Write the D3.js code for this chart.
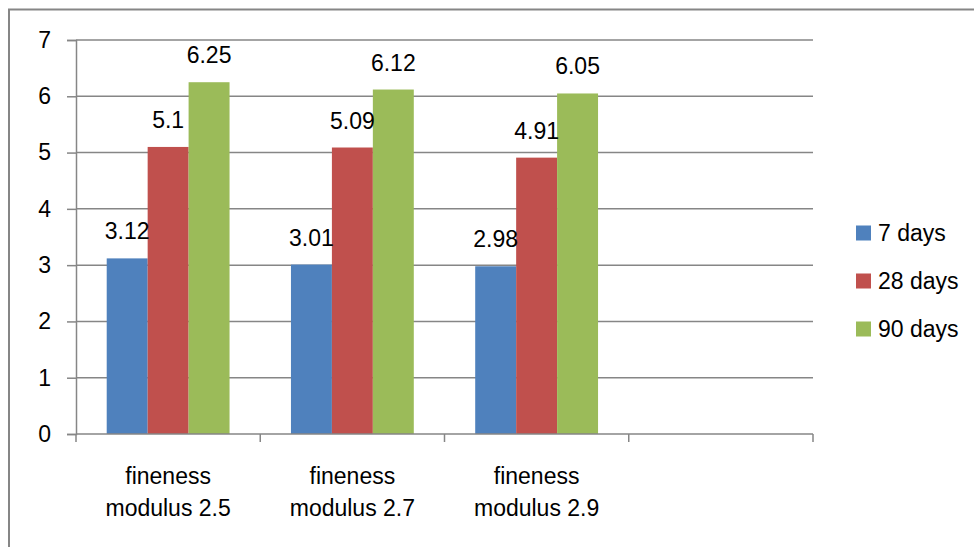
<!DOCTYPE html>
<html>
<head>
<meta charset="utf-8">
<script src="https://cdn.jsdelivr.net/npm/d3@7"></script>
<style>
  html, body { margin: 0; padding: 0; background: #fff; }
  svg { display: block; font-family: "Liberation Sans", Arial, sans-serif; }
</style>
</head>
<body>
<svg id="chart" width="974" height="547"></svg>
<script>
// Compressive strength by fine-aggregate fineness modulus and curing age
const categories = [["fineness", "modulus 2.5"], ["fineness", "modulus 2.7"], ["fineness", "modulus 2.9"], null];
const seriesNames = ["7 days", "28 days", "90 days"];
const seriesColors = ["#4F81BD", "#C0504D", "#9BBB59"];
const values7 = [3.12, 3.01, 2.98];
const values28 = [5.1, 5.09, 4.91];
const values90 = [6.25, 6.12, 6.05];
const yTicks = [0, 1, 2, 3, 4, 5, 6, 7];

const seriesValues = [values7, values28, values90];

const svg = d3.select("#chart");
const axisColor = "#868686";
const fontSize = 23;

const plot = { left: 76, right: 813, top: 40, bottom: 434 };

// outer chart frame (extends past the visible area on the right and bottom)
svg.append("rect")
  .attr("x", 9).attr("y", 9.5)
  .attr("width", 1000).attr("height", 600)
  .attr("fill", "none")
  .attr("stroke", axisColor)
  .attr("stroke-width", 2);

const x = d3.scaleBand()
  .domain(d3.range(categories.length))
  .range([plot.left, plot.right])
  .paddingInner(0).paddingOuter(0);

// gap width 150% of a bar: 3 bars + 1.5 bars of gap per slot
const xs = d3.scaleBand()
  .domain(seriesNames)
  .range([0, x.bandwidth()])
  .paddingInner(0)
  .paddingOuter(0.75);

const y = d3.scaleLinear().domain([0, 7]).range([plot.bottom, plot.top]);

// gridlines
svg.append("g").selectAll("line")
  .data(yTicks.filter(t => t > 0))
  .join("line")
  .attr("x1", plot.left).attr("x2", plot.right)
  .attr("y1", d => y(d)).attr("y2", d => y(d))
  .attr("stroke", axisColor).attr("stroke-width", 1.5);

// bars
const barData = [];
seriesNames.forEach((s, si) => {
  seriesValues[si].forEach((v, ci) => barData.push({ s, si, ci, v }));
});

svg.append("g").selectAll("rect")
  .data(barData)
  .join("rect")
  .attr("x", d => x(d.ci) + xs(d.s))
  .attr("y", d => y(d.v))
  .attr("width", xs.bandwidth())
  .attr("height", d => y(0) - y(d.v))
  .attr("fill", d => seriesColors[d.si]);

// value labels
svg.append("g").selectAll("text")
  .data(barData)
  .join("text")
  .attr("x", d => x(d.ci) + xs(d.s) + xs.bandwidth() / 2)
  .attr("y", d => y(d.v) - 19)
  .attr("text-anchor", "middle")
  .attr("font-size", fontSize)
  .attr("fill", "#000")
  .text(d => String(d.v));

// y axis
const yAxis = d3.axisLeft(y).tickValues(yTicks).tickSize(9).tickPadding(16).tickFormat(d3.format("d"));
const gy = svg.append("g").attr("transform", `translate(${plot.left},0)`).call(yAxis);
gy.select(".domain").attr("stroke", axisColor).attr("stroke-width", 1.5);
gy.selectAll(".tick line").attr("stroke", axisColor).attr("stroke-width", 1.5);
gy.selectAll(".tick text").attr("font-size", fontSize).attr("font-family", "Liberation Sans, Arial, sans-serif").attr("fill", "#000");

// x axis line with boundary tick marks
const gx = svg.append("g");
gx.append("line")
  .attr("x1", plot.left).attr("x2", plot.right)
  .attr("y1", plot.bottom).attr("y2", plot.bottom)
  .attr("stroke", axisColor).attr("stroke-width", 1.5);
const boundaries = d3.range(categories.length + 1).map(i => i < categories.length ? x(i) : plot.right);
gx.selectAll("line.tick")
  .data(boundaries)
  .join("line")
  .attr("class", "tick")
  .attr("x1", d => d).attr("x2", d => d)
  .attr("y1", plot.bottom).attr("y2", plot.bottom + 8)
  .attr("stroke", axisColor).attr("stroke-width", 1.5);

// category labels (two lines each)
const catLabels = gx.selectAll("text.cat")
  .data(categories.map((c, i) => ({ c, i })).filter(d => d.c))
  .join("text")
  .attr("class", "cat")
  .attr("text-anchor", "middle")
  .attr("font-size", fontSize)
  .attr("fill", "#000");
catLabels.selectAll("tspan")
  .data(d => d.c.map((line, li) => ({ line, li, cx: x(d.i) + x.bandwidth() / 2 })))
  .join("tspan")
  .attr("x", d => d.cx)
  .attr("y", d => 484 + d.li * 32)
  .text(d => d.line);

// legend
const legend = svg.append("g").attr("transform", "translate(856,233)");
const items = legend.selectAll("g")
  .data(seriesNames)
  .join("g")
  .attr("transform", (d, i) => `translate(0,${i * 48})`);
items.append("rect")
  .attr("x", 0).attr("y", -7.5)
  .attr("width", 15).attr("height", 15)
  .attr("fill", (d, i) => seriesColors[i]);
items.append("text")
  .attr("x", 22).attr("y", 0)
  .attr("dy", "0.36em")
  .attr("font-size", fontSize)
  .attr("fill", "#000")
  .text(d => d);
</script>
</body>
</html>
